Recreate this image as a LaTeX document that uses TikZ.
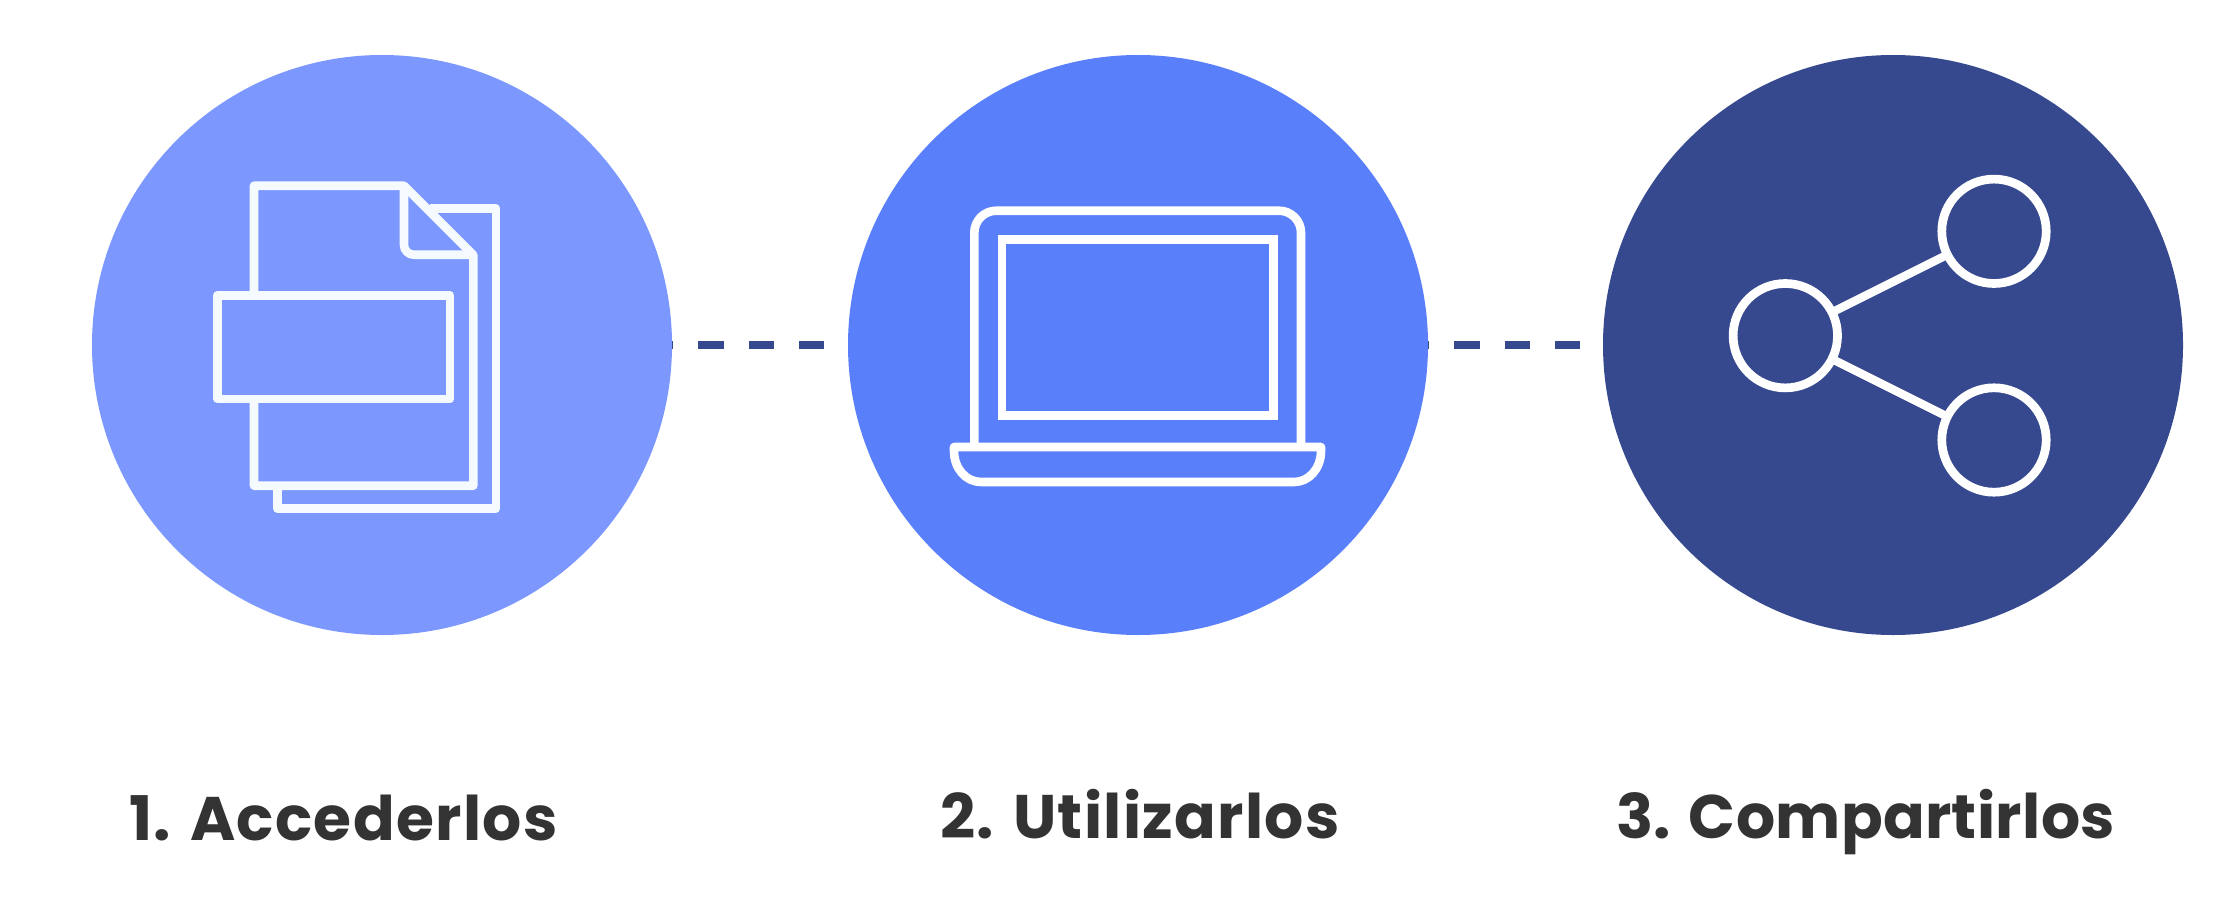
\documentclass[tikz,border=0pt]{standalone}
\usepackage{fontspec}
\newfontfamily\lab{Poppins}[LetterSpace=2.2]
\newfontfamily\labtight{Poppins}[LetterSpace=0.6]
\definecolor{cA}{HTML}{7C98FF}
\definecolor{cB}{HTML}{5A7FFA}
\definecolor{cC}{HTML}{36498F}
\definecolor{iconA}{HTML}{F5FAFF}
\definecolor{txt}{HTML}{333333}
\tikzset{
  disc/.style={circle,inner sep=0pt,outer sep=0pt,minimum size=580pt},
  ico/.style={draw=white,line width=8.6pt,line join=round},
  icoA/.style={ico,draw=iconA},
  dashline/.style={draw=cC,line width=8pt,dash pattern=on 25.2pt off 25.2pt,dash phase=24pt},
  dot/.style={circle,draw=white,line width=8.7pt,fill=none,minimum size=104.4pt,inner sep=0pt,outer sep=0pt},
  lbl/.style={anchor=base west,inner sep=0pt,outer sep=0pt,text=txt,font=\lab\bfseries\fontsize{61.5}{66}\selectfont},
  lbltight/.style={lbl,font=\labtight\bfseries\fontsize{61.5}{66}\selectfont}
}
\begin{document}
\begin{tikzpicture}[x=1pt,y=-1pt]
\useasboundingbox (0,0) rectangle (2215,915);
\fill[white] (0,0) rectangle (2215,915);
\node[disc,fill=cA] (c1) at (382,345) {};
\node[disc,fill=cB] (c2) at (1138,345) {};
\node[disc,fill=cC] (c3) at (1893,345) {};
\draw[dashline] (c1.east) -- (c2.west);
\draw[dashline] (c2.east) -- (c3.west);
% documents icon
\draw[icoA] (430,208.7) -- (496,208.7) -- (496,508.4) -- (277.2,508.4) -- (277.2,485.7);
\draw[icoA] (254,295.3) -- (254,185.7) -- (404,185.7) -- (473.3,255) -- (473.3,485.7) -- (254,485.7) -- (254,399);
\draw[icoA] (404,185.7) -- (404,245) arc[start angle=180,end angle=90,radius=9.7] -- (473.3,254.7);
\draw[icoA] (217.3,295.3) rectangle (450,399);
% laptop icon
\draw[ico] (974.3,447) -- (974.3,232.7) arc[start angle=180,end angle=270,radius=22] -- (1279,210.7) arc[start angle=270,end angle=360,radius=22] -- (1301,447);
\draw[ico,line join=miter] (1002,239.7) rectangle (1273.3,415.7);
\draw[ico] (954,447) -- (1321,447) -- (1321,451) .. controls (1321,468.5) and (1309,482) .. (1294,482) -- (981,482) .. controls (966,482) and (954,468.5) .. (954,451) -- cycle;
% share icon
\node[dot] (s1) at (1785.3,335.7) {};
\node[dot] (s2) at (1994,231.3) {};
\node[dot] (s3) at (1994,440) {};
\draw[ico,line width=8.4pt] (s1) -- (s2);
\draw[ico,line width=8.4pt] (s1) -- (s3);
% labels
\node[lbl] (t1) at (129,840) {1. Accederlos};
\node[lbl] (t2) at (940,838) {2. Utilizarlos};
\node[lbltight] (t3) at (1616,838) {3. Compartirlos};
\end{tikzpicture}
\end{document}
